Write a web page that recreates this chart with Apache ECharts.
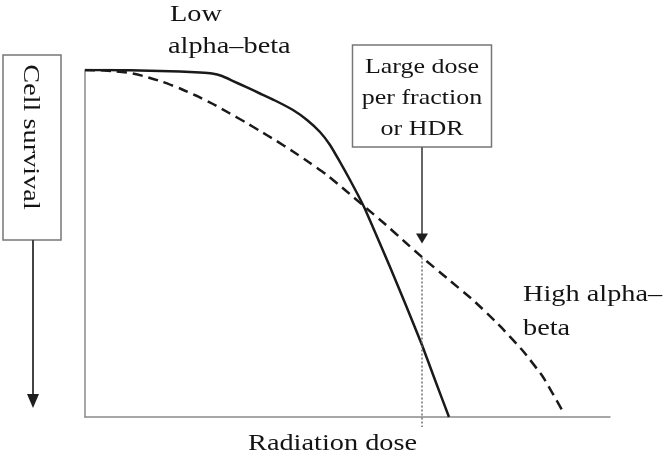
<!DOCTYPE html>
<html><head><meta charset="utf-8">
<script src="https://cdn.jsdelivr.net/npm/echarts@6/dist/echarts.min.js"></script>
<style>html,body{margin:0;padding:0;background:#fff}#c{width:664px;height:459px}</style>
</head><body><div id="c"></div>
<script>
// Solid curve: low alpha-beta (relative units, 0-100)
const doseSolid = [0, 2.86, 6.67, 10.48, 14.29, 18.10, 21.90, 24.19, 26.10, 28.00, 30.86, 33.33, 36.19, 39.62, 42.29, 44.76, 46.67, 48.57, 50.48, 52.00, 53.33, 55.81, 58.10, 60.95, 64.19, 66.67, 69.33];
const survSolid = [100, 100, 99.94, 99.86, 99.71, 99.54, 99.28, 98.99, 98.27, 96.97, 94.96, 93.23, 91.21, 88.47, 85.59, 82.13, 78.39, 73.49, 68.30, 63.98, 59.94, 51.30, 43.23, 32.85, 20.75, 10.66, 0];
// Dashed curve: high alpha-beta
const doseDashed = [0, 2.86, 5.71, 8.57, 11.43, 14.86, 18.10, 21.33, 24.38, 27.62, 30.48, 33.33, 36.19, 39.62, 42.86, 46.10, 49.52, 53.33, 57.14, 60.95, 64.38, 69.14, 73.90, 78.67, 83.43, 87.24, 90.86];
const survDashed = [100, 99.91, 99.65, 99.14, 98.13, 96.54, 94.67, 92.51, 90.20, 87.46, 85.01, 82.42, 79.83, 76.51, 73.20, 69.74, 65.42, 60.52, 55.62, 50.43, 45.82, 39.77, 33.72, 26.80, 19.02, 11.53, 2.02];
// Large dose marker
const markDose = 64.19;
const markTop = 46.0;
const markBottom = -2.9;

const labelLow = ['Low', 'alpha\u2013beta'];
const labelHigh = ['High alpha\u2013', 'beta'];
const labelBox = ['Large dose', 'per fraction', 'or HDR'];
const labelY = 'Cell survival';
const labelX = 'Radiation dose';

const chart = echarts.init(document.getElementById('c'), null, {renderer: 'canvas'});
const toPairs = (xs, ys) => xs.map((x, i) => [x, ys[i]]);
const axisCommon = {
  type: 'value', min: 0, max: 100,
  axisLine: {show: true, onZero: false, lineStyle: {color: '#8a8a8a', width: 1.5}},
  axisTick: {show: false}, axisLabel: {show: false}, splitLine: {show: false}
};
chart.setOption({
  animation: false,
  backgroundColor: '#fff',
  grid: {left: 85, right: 54, top: 70, bottom: 42},
  xAxis: axisCommon,
  yAxis: axisCommon,
  series: [
    {type: 'line', data: toPairs(doseSolid, survSolid), smooth: 0.15, symbol: 'none',
     lineStyle: {color: '#1a1a1a', width: 2.5}},
    {type: 'line', data: toPairs(doseDashed, survDashed), smooth: 0.15, symbol: 'none',
     lineStyle: {color: '#1a1a1a', width: 2.5, type: [10, 6]}},
    {type: 'line', data: [[markDose, markTop], [markDose, markBottom]], clip: false, symbol: 'none',
     lineStyle: {color: '#707070', width: 1.5, type: [2, 2]}}
  ]
});

const px = chart.convertToPixel({gridIndex: 0}, [markDose, markTop]);
const mx = px[0], myTop = px[1];
const FONT = 'Liberation Serif';
const SX = 1.18;
const txt = (text, x, y, size, align, rot) => ({
  type: 'text', x: x, y: y, scaleX: SX, rotation: rot || 0,
  style: {text: text, font: size + 'px "' + FONT + '"', fill: '#141414', align: align || 'left', verticalAlign: 'middle'}
});
const boxL = mx - 69.5, boxR = mx + 69.5, boxT = 45, boxB = 147;
const tipY = myTop - 14;
chart.setOption({
  graphic: [
    txt(labelLow[0], 170, 15, 24),
    txt(labelLow[1], 168, 47, 24),
    txt(labelHigh[0], 523, 295, 24),
    txt(labelHigh[1], 523, 329, 24),
    txt(labelX, 248, 444, 24),
    {type: 'rect', shape: {x: boxL, y: boxT, width: boxR - boxL, height: boxB - boxT},
     style: {fill: '#fff', stroke: '#777', lineWidth: 1.5}},
    txt(labelBox[0], mx, 67, 22, 'center'),
    txt(labelBox[1], mx, 98, 22, 'center'),
    txt(labelBox[2], mx, 129, 22, 'center'),
    {type: 'line', shape: {x1: mx, y1: boxB, x2: mx, y2: tipY - 9}, style: {stroke: '#666', lineWidth: 2}},
    {type: 'polygon', shape: {points: [[mx - 6, tipY - 10], [mx + 6, tipY - 10], [mx, tipY]]}, style: {fill: '#1e1e1e'}},
    {type: 'rect', shape: {x: 3, y: 55, width: 58, height: 185},
     style: {fill: '#fff', stroke: '#777', lineWidth: 1.5}},
    txt(labelY, 30.5, 137, 24, 'center', -Math.PI / 2),
    {type: 'line', shape: {x1: 33, y1: 240, x2: 33, y2: 396}, style: {stroke: '#444', lineWidth: 2}},
    {type: 'polygon', shape: {points: [[27, 394], [39, 394], [33, 408]]}, style: {fill: '#1e1e1e'}}
  ]
});
</script></body></html>
